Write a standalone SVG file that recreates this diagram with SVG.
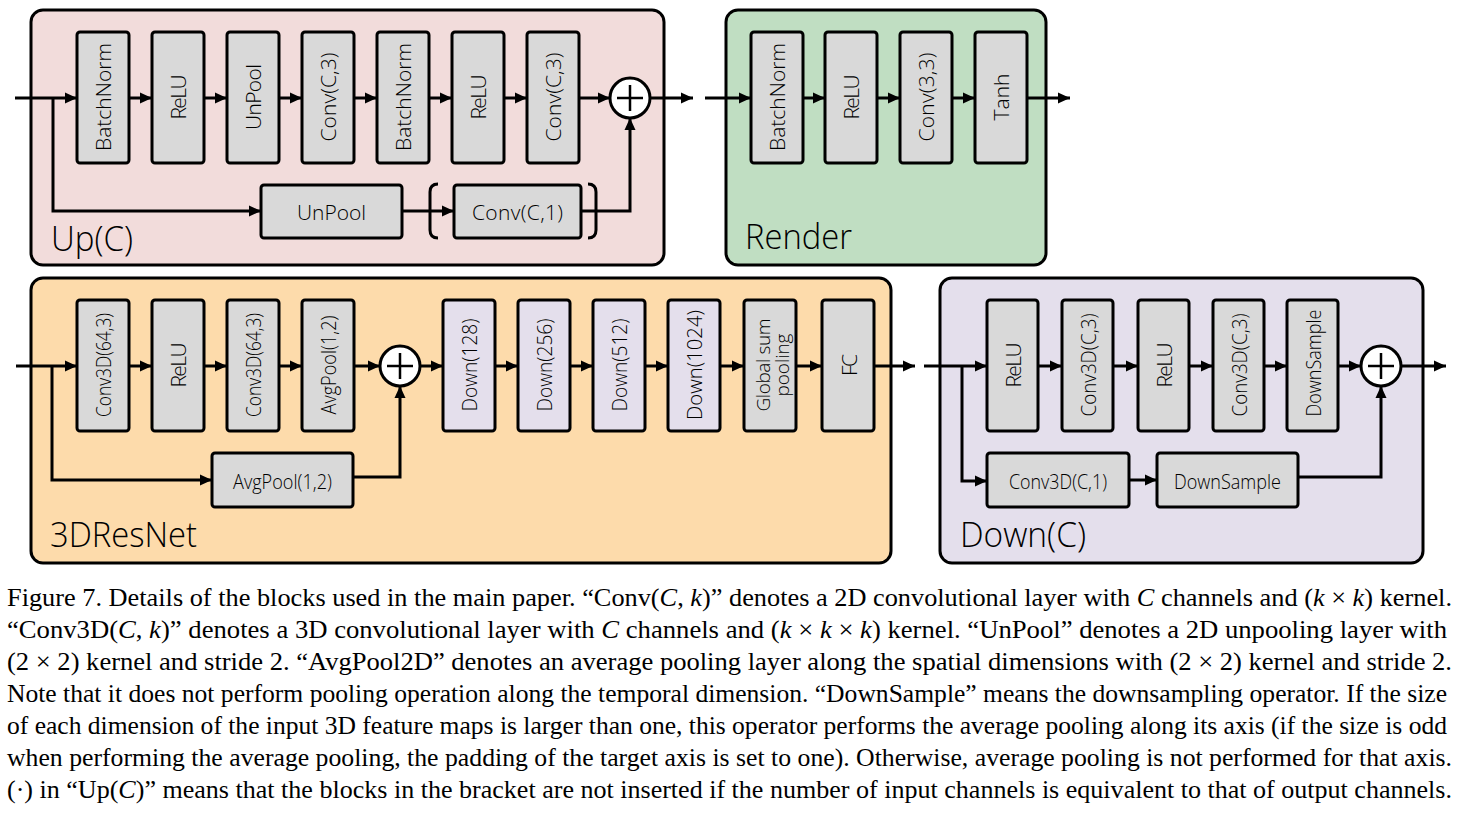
<svg xmlns="http://www.w3.org/2000/svg" width="1463" height="813" viewBox="0 0 1463 813">
<style>
.panel{stroke:#000;stroke-width:3}
.box{fill:#d9d9d9;stroke:#000;stroke-width:3}
.dbox{fill:#e4dfec;stroke:#000;stroke-width:3}
.v{font-family:"Open Sans","Noto Sans",sans-serif;font-weight:300;font-size:21px;text-anchor:middle;dominant-baseline:central;fill:#000}
.h{font-family:"Open Sans","Noto Sans",sans-serif;font-weight:300;font-size:21px;text-anchor:middle;dominant-baseline:central;fill:#000}
.lbl{font-family:"Open Sans","Noto Sans",sans-serif;font-weight:300;font-size:34px;fill:#000}
.c{stroke:#000;stroke-width:3;fill:none}
.plus{fill:#fff;stroke:#000;stroke-width:3}
.cap{font-family:"Liberation Serif","Times New Roman",serif;font-size:26px;fill:#000}
.i{font-style:italic}
</style>
<defs>
<marker id="ah" viewBox="0 0 12 12" refX="12" refY="6" markerWidth="12" markerHeight="12" markerUnits="userSpaceOnUse" orient="auto"><path d="M0,0.5 L12,6 L0,11.5 z" fill="#000"/></marker>
</defs>

<!-- Panels -->
<g id="panel-up"><rect class="panel" x="31" y="10" width="633" height="255" rx="12" fill="#f2dcdb"/><text class="lbl" x="51" y="251" textLength="82" lengthAdjust="spacingAndGlyphs">Up(C)</text></g>
<g id="panel-render"><rect class="panel" x="726" y="10" width="320" height="255" rx="12" fill="#c0dec2"/><text class="lbl" x="745" y="249" textLength="107" lengthAdjust="spacingAndGlyphs">Render</text></g>
<g id="panel-3dresnet"><rect class="panel" x="31" y="278" width="860" height="285" rx="12" fill="#fddbab"/><text class="lbl" x="50" y="547" textLength="147" lengthAdjust="spacingAndGlyphs">3DResNet</text></g>
<g id="panel-down"><rect class="panel" x="940" y="278" width="483" height="285" rx="12" fill="#e4dfec"/><text class="lbl" x="960" y="547" textLength="126" lengthAdjust="spacingAndGlyphs">Down(C)</text></g>

<!-- Connectors -->
<g id="connectors" class="c">
<!-- Up(C) -->
<line x1="15" y1="98" x2="77" y2="98" marker-end="url(#ah)"/>
<line x1="129" y1="98" x2="152" y2="98" marker-end="url(#ah)"/>
<line x1="204" y1="98" x2="227" y2="98" marker-end="url(#ah)"/>
<line x1="279" y1="98" x2="302" y2="98" marker-end="url(#ah)"/>
<line x1="354" y1="98" x2="377" y2="98" marker-end="url(#ah)"/>
<line x1="429" y1="98" x2="452" y2="98" marker-end="url(#ah)"/>
<line x1="504" y1="98" x2="527" y2="98" marker-end="url(#ah)"/>
<line x1="579" y1="98" x2="610" y2="98" marker-end="url(#ah)"/>
<line x1="650" y1="98" x2="693" y2="98" marker-end="url(#ah)"/>
<polyline points="53,98 53,211 261,211" marker-end="url(#ah)"/>
<line x1="402" y1="211" x2="454" y2="211" marker-end="url(#ah)"/>
<polyline points="581,211 630,211 630,118" marker-end="url(#ah)"/>
<path d="M438,184 Q430,184 430,192 L430,230 Q430,238 438,238"/>
<path d="M588,184 Q596,184 596,192 L596,230 Q596,238 588,238"/>
<!-- Render -->
<line x1="705" y1="98" x2="751" y2="98" marker-end="url(#ah)"/>
<line x1="803" y1="98" x2="825" y2="98" marker-end="url(#ah)"/>
<line x1="877" y1="98" x2="900" y2="98" marker-end="url(#ah)"/>
<line x1="952" y1="98" x2="975" y2="98" marker-end="url(#ah)"/>
<line x1="1027" y1="98" x2="1070" y2="98" marker-end="url(#ah)"/>
<!-- 3DResNet -->
<line x1="16" y1="366" x2="77" y2="366" marker-end="url(#ah)"/>
<line x1="129" y1="366" x2="152" y2="366" marker-end="url(#ah)"/>
<line x1="204" y1="366" x2="227" y2="366" marker-end="url(#ah)"/>
<line x1="279" y1="366" x2="302" y2="366" marker-end="url(#ah)"/>
<line x1="354" y1="366" x2="380" y2="366" marker-end="url(#ah)"/>
<line x1="420" y1="366" x2="443" y2="366" marker-end="url(#ah)"/>
<line x1="495" y1="366" x2="518" y2="366" marker-end="url(#ah)"/>
<line x1="570" y1="366" x2="593" y2="366" marker-end="url(#ah)"/>
<line x1="645" y1="366" x2="668" y2="366" marker-end="url(#ah)"/>
<line x1="720" y1="366" x2="744" y2="366" marker-end="url(#ah)"/>
<line x1="796" y1="366" x2="822" y2="366" marker-end="url(#ah)"/>
<line x1="874" y1="366" x2="915" y2="366" marker-end="url(#ah)"/>
<polyline points="52,366 52,480 212,480" marker-end="url(#ah)"/>
<polyline points="353,477 400,477 400,386" marker-end="url(#ah)"/>
<!-- Down(C) -->
<line x1="924" y1="366" x2="987" y2="366" marker-end="url(#ah)"/>
<line x1="1038" y1="366" x2="1062" y2="366" marker-end="url(#ah)"/>
<line x1="1113" y1="366" x2="1138" y2="366" marker-end="url(#ah)"/>
<line x1="1189" y1="366" x2="1213" y2="366" marker-end="url(#ah)"/>
<line x1="1264" y1="366" x2="1287" y2="366" marker-end="url(#ah)"/>
<line x1="1338" y1="366" x2="1361" y2="366" marker-end="url(#ah)"/>
<line x1="1401" y1="366" x2="1446" y2="366" marker-end="url(#ah)"/>
<polyline points="962,366 962,481 987,481" marker-end="url(#ah)"/>
<line x1="1129" y1="480" x2="1157" y2="480" marker-end="url(#ah)"/>
<polyline points="1298,477 1381,477 1381,386" marker-end="url(#ah)"/>
</g>

<!-- Up(C) nodes -->
<g id="up-bn1"><rect class="box" x="77" y="32" width="52" height="131" rx="3"/><text class="v" transform="translate(103,97) rotate(-90)" textLength="108">BatchNorm</text></g>
<g id="up-relu1"><rect class="box" x="152" y="32" width="52" height="131" rx="3"/><text class="v" transform="translate(178,97) rotate(-90)" textLength="45">ReLU</text></g>
<g id="up-unpool1"><rect class="box" x="227" y="32" width="52" height="131" rx="3"/><text class="v" transform="translate(253,97) rotate(-90)" textLength="66">UnPool</text></g>
<g id="up-conv1"><rect class="box" x="302" y="32" width="52" height="131" rx="3"/><text class="v" transform="translate(328,97) rotate(-90)" textLength="89">Conv(C,3)</text></g>
<g id="up-bn2"><rect class="box" x="377" y="32" width="52" height="131" rx="3"/><text class="v" transform="translate(403,97) rotate(-90)" textLength="108">BatchNorm</text></g>
<g id="up-relu2"><rect class="box" x="452" y="32" width="52" height="131" rx="3"/><text class="v" transform="translate(478,97) rotate(-90)" textLength="45">ReLU</text></g>
<g id="up-conv2"><rect class="box" x="527" y="32" width="52" height="131" rx="3"/><text class="v" transform="translate(553,97) rotate(-90)" textLength="89">Conv(C,3)</text></g>
<g id="up-add"><circle class="plus" cx="630" cy="98" r="20"/><path d="M617,98 H643 M630,85 V111" stroke="#000" stroke-width="2.5"/></g>
<g id="up-unpool2"><rect class="box" x="261" y="185" width="141" height="53" rx="3"/><text class="h" x="331.5" y="212" textLength="69">UnPool</text></g>
<g id="up-conv3"><rect class="box" x="454" y="185" width="127" height="53" rx="3"/><text class="h" x="517.5" y="212" textLength="91">Conv(C,1)</text></g>

<!-- Render nodes -->
<g id="r-bn"><rect class="box" x="751" y="32" width="52" height="131" rx="3"/><text class="v" transform="translate(777,97) rotate(-90)" textLength="108">BatchNorm</text></g>
<g id="r-relu"><rect class="box" x="825" y="32" width="52" height="131" rx="3"/><text class="v" transform="translate(851,97) rotate(-90)" textLength="45">ReLU</text></g>
<g id="r-conv"><rect class="box" x="900" y="32" width="52" height="131" rx="3"/><text class="v" transform="translate(926,97) rotate(-90)" textLength="89">Conv(3,3)</text></g>
<g id="r-tanh"><rect class="box" x="975" y="32" width="52" height="131" rx="3"/><text class="v" transform="translate(1001,97) rotate(-90)" textLength="47">Tanh</text></g>

<!-- 3DResNet nodes -->
<g id="n-conv3d1"><rect class="box" x="77" y="300" width="52" height="131" rx="3"/><text class="v" transform="translate(103,365) rotate(-90)" textLength="104" lengthAdjust="spacingAndGlyphs">Conv3D(64,3)</text></g>
<g id="n-relu"><rect class="box" x="152" y="300" width="52" height="131" rx="3"/><text class="v" transform="translate(178,365) rotate(-90)" textLength="45">ReLU</text></g>
<g id="n-conv3d2"><rect class="box" x="227" y="300" width="52" height="131" rx="3"/><text class="v" transform="translate(253,365) rotate(-90)" textLength="104" lengthAdjust="spacingAndGlyphs">Conv3D(64,3)</text></g>
<g id="n-avgpool1"><rect class="box" x="302" y="300" width="52" height="131" rx="3"/><text class="v" transform="translate(328,365) rotate(-90)" textLength="99" lengthAdjust="spacingAndGlyphs">AvgPool(1,2)</text></g>
<g id="n-add"><circle class="plus" cx="400" cy="366" r="20"/><path d="M387,366 H413 M400,353 V379" stroke="#000" stroke-width="2.5"/></g>
<g id="n-avgpool2"><rect class="box" x="212" y="453" width="141" height="54" rx="3"/><text class="h" x="282.5" y="481" textLength="99" lengthAdjust="spacingAndGlyphs">AvgPool(1,2)</text></g>
<g id="n-down128"><rect class="dbox" x="443" y="300" width="52" height="131" rx="3"/><text class="v" transform="translate(469,365) rotate(-90)" textLength="93" lengthAdjust="spacingAndGlyphs">Down(128)</text></g>
<g id="n-down256"><rect class="dbox" x="518" y="300" width="52" height="131" rx="3"/><text class="v" transform="translate(544,365) rotate(-90)" textLength="93" lengthAdjust="spacingAndGlyphs">Down(256)</text></g>
<g id="n-down512"><rect class="dbox" x="593" y="300" width="52" height="131" rx="3"/><text class="v" transform="translate(619,365) rotate(-90)" textLength="93" lengthAdjust="spacingAndGlyphs">Down(512)</text></g>
<g id="n-down1024"><rect class="dbox" x="668" y="300" width="52" height="131" rx="3"/><text class="v" transform="translate(694,365) rotate(-90)" textLength="110" lengthAdjust="spacingAndGlyphs">Down(1024)</text></g>
<g id="n-gsp"><rect class="box" x="744" y="300" width="52" height="131" rx="3"/><text class="v" style="dominant-baseline:auto;font-size:19px" transform="translate(770,365) rotate(-90)"><tspan x="0" y="0" textLength="93">Global sum</tspan><tspan x="0" y="19" textLength="63">pooling</tspan></text></g>
<g id="n-fc"><rect class="box" x="822" y="300" width="52" height="131" rx="3"/><text class="v" transform="translate(849,365) rotate(-90)" textLength="22">FC</text></g>

<!-- Down(C) nodes -->
<g id="d-relu1"><rect class="box" x="987" y="300" width="51" height="131" rx="3"/><text class="v" transform="translate(1012.5,365) rotate(-90)" textLength="45">ReLU</text></g>
<g id="d-conv1"><rect class="box" x="1062" y="300" width="51" height="131" rx="3"/><text class="v" transform="translate(1087.5,365) rotate(-90)" textLength="103" lengthAdjust="spacingAndGlyphs">Conv3D(C,3)</text></g>
<g id="d-relu2"><rect class="box" x="1138" y="300" width="51" height="131" rx="3"/><text class="v" transform="translate(1163.5,365) rotate(-90)" textLength="45">ReLU</text></g>
<g id="d-conv2"><rect class="box" x="1213" y="300" width="51" height="131" rx="3"/><text class="v" transform="translate(1238.5,365) rotate(-90)" textLength="103" lengthAdjust="spacingAndGlyphs">Conv3D(C,3)</text></g>
<g id="d-ds1"><rect class="box" x="1287" y="300" width="51" height="131" rx="3"/><text class="v" transform="translate(1312.5,363) rotate(-90)" textLength="107" lengthAdjust="spacingAndGlyphs">DownSample</text></g>
<g id="d-add"><circle class="plus" cx="1381" cy="366" r="20"/><path d="M1368,366 H1394 M1381,353 V379" stroke="#000" stroke-width="2.5"/></g>
<g id="d-conv3"><rect class="box" x="987" y="453" width="142" height="54" rx="3"/><text class="h" x="1058" y="481" textLength="98" lengthAdjust="spacingAndGlyphs">Conv3D(C,1)</text></g>
<g id="d-ds2"><rect class="box" x="1157" y="453" width="141" height="54" rx="3"/><text class="h" x="1227.5" y="481" textLength="107" lengthAdjust="spacingAndGlyphs">DownSample</text></g>

<!-- Caption -->
<g id="caption" class="cap">
<text x="7" y="606" textLength="1445" lengthAdjust="spacingAndGlyphs">Figure 7. Details of the blocks used in the main paper. “Conv(<tspan class="i">C</tspan>, <tspan class="i">k</tspan>)” denotes a 2D convolutional layer with <tspan class="i">C</tspan> channels and (<tspan class="i">k</tspan> × <tspan class="i">k</tspan>) kernel.</text>
<text x="7" y="638" textLength="1440" lengthAdjust="spacingAndGlyphs">“Conv3D(<tspan class="i">C</tspan>, <tspan class="i">k</tspan>)” denotes a 3D convolutional layer with <tspan class="i">C</tspan> channels and (<tspan class="i">k</tspan> × <tspan class="i">k</tspan> × <tspan class="i">k</tspan>) kernel. “UnPool” denotes a 2D unpooling layer with</text>
<text x="7" y="670" textLength="1445" lengthAdjust="spacingAndGlyphs">(2 × 2) kernel and stride 2. “AvgPool2D” denotes an average pooling layer along the spatial dimensions with (2 × 2) kernel and stride 2.</text>
<text x="7" y="702" textLength="1440" lengthAdjust="spacingAndGlyphs">Note that it does not perform pooling operation along the temporal dimension. “DownSample” means the downsampling operator. If the size</text>
<text x="7" y="734" textLength="1440" lengthAdjust="spacingAndGlyphs">of each dimension of the input 3D feature maps is larger than one, this operator performs the average pooling along its axis (if the size is odd</text>
<text x="7" y="766" textLength="1445" lengthAdjust="spacingAndGlyphs">when performing the average pooling, the padding of the target axis is set to one). Otherwise, average pooling is not performed for that axis.</text>
<text x="7" y="798" textLength="1445" lengthAdjust="spacingAndGlyphs">(·) in “Up(<tspan class="i">C</tspan>)” means that the blocks in the bracket are not inserted if the number of input channels is equivalent to that of output channels.</text>
</g>
</svg>
